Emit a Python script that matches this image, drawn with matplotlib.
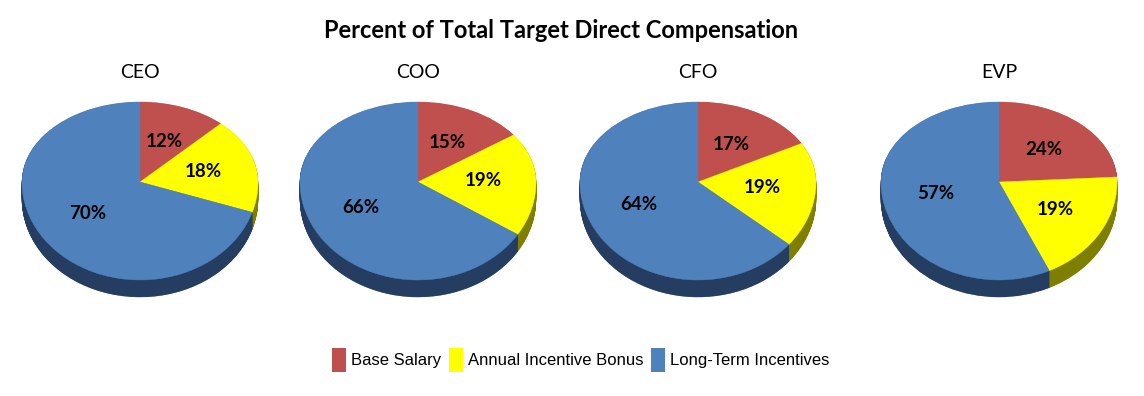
import numpy as np
import matplotlib
matplotlib.use("Agg")
import matplotlib.pyplot as plt
from matplotlib.patches import PathPatch, Patch
from matplotlib.path import Path

# ---- data ----
title = "Percent of Total Target Direct Compensation"
roles = ["CEO", "COO", "CFO", "EVP"]
components = ["Base Salary", "Annual Incentive Bonus", "Long-Term Incentives"]
base_salary = [12, 15, 17, 24]
annual_bonus = [18, 19, 19, 19]
long_term = [70, 66, 64, 57]

top_colors = ["#C0504D", "#FFFF00", "#4F81BD"]
wall_colors = ["#8A3734", "#7E7E00", "#243D60"]

W, H, DPI = 1144, 396, 100
fig = plt.figure(figsize=(W / DPI, H / DPI), dpi=DPI)
fig.patch.set_facecolor("white")

centers_x = [140, 418, 698, 999]
center_y = 182            # apex of the slices (pixels from top)
rx = 118                  # horizontal semi-axis (px)
ry_top, ry_bot = 80, 98   # perspective: far half shorter than near half
depth_px = 17
box_w, box_h = 290, 260


def to_px(xy):
    xy = np.asarray(xy, dtype=float).copy()
    x, y = xy[..., 0], xy[..., 1]
    xy[..., 0] = x * rx
    xy[..., 1] = np.where(y > 0, y * ry_top, y * ry_bot)
    return xy


for i, role in enumerate(roles):
    vals = [base_salary[i], annual_bonus[i], long_term[i]]
    cx = centers_x[i]
    left = (cx - box_w / 2) / W
    bottom = (H - (center_y + box_h / 2)) / H
    ax = fig.add_axes([left, bottom, box_w / W, box_h / H])
    wedges, _, autotexts = ax.pie(
        vals, startangle=90, counterclock=False, colors=top_colors,
        autopct="%.0f%%", pctdistance=0.55,
        wedgeprops=dict(linewidth=0),
        textprops=dict(fontsize=13.5, fontweight="bold", family="Lato",
                       color="black"))
    paths = []
    for w in wedges:
        p = w.get_path()
        paths.append((to_px(p.vertices), p.codes))
        w.remove()
    # side wall: stacked, shifted copies of each slice
    for t in np.linspace(depth_px, 0.5, 34):
        for (v, c), col in zip(paths, wall_colors):
            vv = v.copy()
            vv[:, 1] -= t
            ax.add_patch(PathPatch(Path(vv, c), facecolor=col,
                                   edgecolor=col, linewidth=0.3))
    for (v, c), col in zip(paths, top_colors):
        ax.add_patch(PathPatch(Path(v, c), facecolor=col, edgecolor=col,
                               linewidth=0.3))
    for txt in autotexts:
        txt.set_position(tuple(to_px(txt.get_position())))
        txt.set_zorder(10)
    ax.set_aspect("auto")
    ax.set_xlim(-box_w / 2, box_w / 2)
    ax.set_ylim(-box_h / 2, box_h / 2)
    ax.axis("off")
    fig.text(cx / W, 1 - 72 / H, role, ha="center", va="center",
             fontsize=14, family="Lato", color="black")

fig.text(561 / W, 1 - 30 / H, title, ha="center", va="center",
         fontsize=17, fontweight="bold", family="Lato", color="black")

handles = [Patch(facecolor=c, edgecolor="none") for c in top_colors]
fig.legend(handles, components, loc="center",
           bbox_to_anchor=(581 / W, 1 - 360 / H),
           ncol=3, frameon=False, handlelength=0.85, handleheight=1.9,
           handletextpad=0.3, columnspacing=0.45,
           prop=dict(family="Liberation Sans", size=12))

fig.savefig("out.png", dpi=DPI, facecolor="white")
